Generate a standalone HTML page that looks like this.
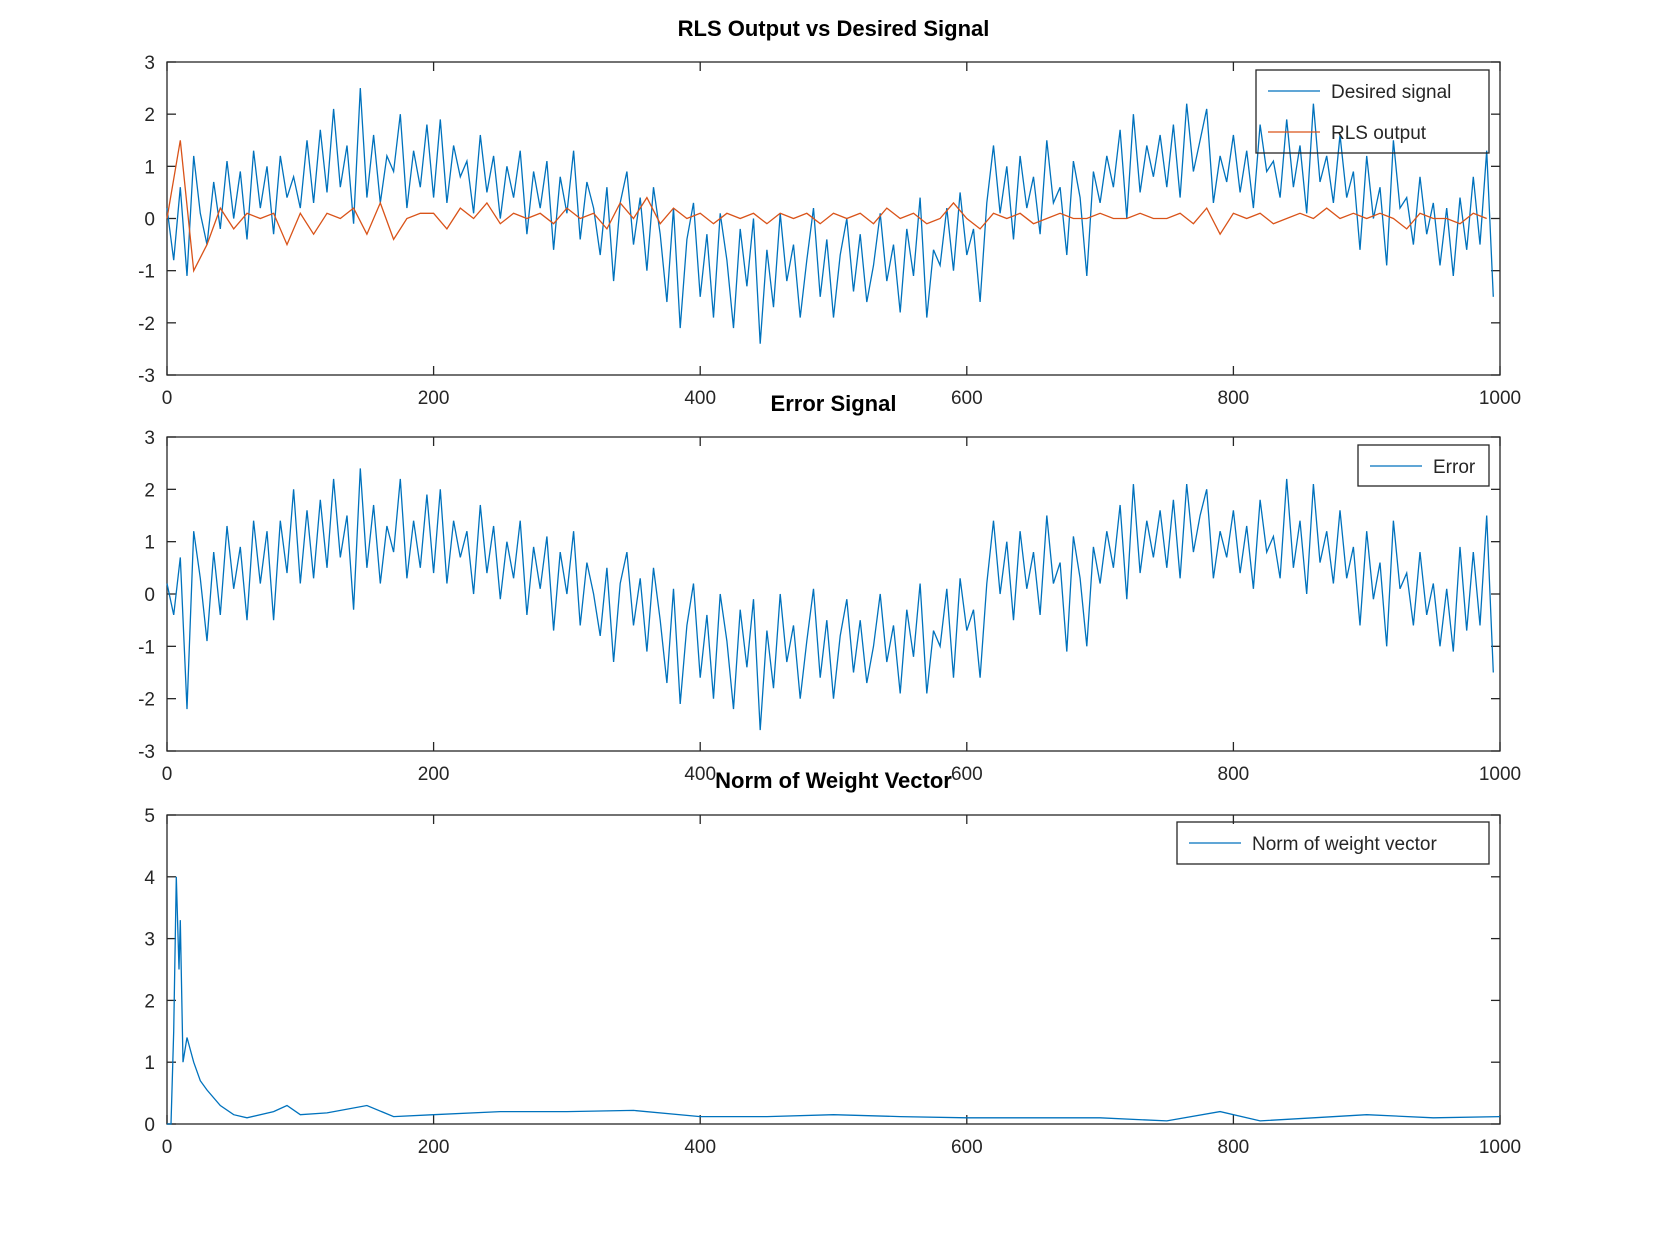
<!DOCTYPE html>
<html><head><meta charset="utf-8"><style>
html,body{margin:0;padding:0;background:#fff;}
svg{display:block;font-family:"Liberation Sans",sans-serif;}
</style></head><body>
<svg id="fig" width="1667" height="1250" viewBox="0 0 1667 1250" xmlns="http://www.w3.org/2000/svg"></svg>
<script>
const xTicks=[0,200,400,600,800,1000];
const desired=[0.2,-0.8,0.6,-1.1,1.2,0.1,-0.5,0.7,-0.2,1.1,0.0,0.9,-0.4,1.3,0.2,1.0,-0.3,1.2,0.4,0.8,
0.2,1.5,0.3,1.7,0.5,2.1,0.6,1.4,-0.1,2.5,0.4,1.6,0.3,1.2,0.9,2.0,0.2,1.3,0.6,1.8,
0.4,1.9,0.3,1.4,0.8,1.1,0.1,1.6,0.5,1.2,0.0,1.0,0.4,1.3,-0.3,0.9,0.2,1.1,-0.6,0.8,
0.1,1.3,-0.4,0.7,0.2,-0.7,0.6,-1.2,0.3,0.9,-0.5,0.4,-1.0,0.6,-0.3,-1.6,0.2,-2.1,-0.4,0.3,
-1.5,-0.3,-1.9,0.1,-0.8,-2.1,-0.2,-1.3,0.0,-2.4,-0.6,-1.7,0.1,-1.2,-0.5,-1.9,-0.8,0.2,-1.5,-0.4,
-1.9,-0.7,0.0,-1.4,-0.3,-1.6,-0.9,0.1,-1.2,-0.5,-1.8,-0.2,-1.1,0.4,-1.9,-0.6,-0.9,0.2,-1.0,0.5,
-0.7,-0.2,-1.6,0.3,1.4,0.1,1.0,-0.4,1.2,0.2,0.8,-0.3,1.5,0.3,0.6,-0.7,1.1,0.4,-1.1,0.9,
0.3,1.2,0.6,1.7,0.0,2.0,0.5,1.4,0.8,1.6,0.6,1.8,0.4,2.2,0.9,1.5,2.1,0.3,1.2,0.7,
1.6,0.5,1.3,0.2,1.8,0.9,1.1,0.4,1.9,0.6,1.4,0.1,2.2,0.7,1.2,0.3,1.6,0.4,0.9,-0.6,
1.2,0.0,0.6,-0.9,1.5,0.2,0.4,-0.5,0.8,-0.3,0.3,-0.9,0.2,-1.1,0.4,-0.6,0.8,-0.5,1.3,-1.5];
const rlsOutput=[0.0,1.5,-1.0,-0.5,0.2,-0.2,0.1,0.0,0.1,-0.5,
0.1,-0.3,0.1,0.0,0.2,-0.3,0.3,-0.4,0.0,0.1,
0.1,-0.2,0.2,0.0,0.3,-0.1,0.1,0.0,0.1,-0.1,
0.2,0.0,0.1,-0.2,0.3,0.0,0.4,-0.1,0.2,0.0,
0.1,-0.1,0.1,0.0,0.1,-0.1,0.1,0.0,0.1,-0.1,
0.1,0.0,0.1,-0.1,0.2,0.0,0.1,-0.1,0.0,0.3,
0.0,-0.2,0.1,0.0,0.1,-0.1,0.0,0.1,0.0,0.0,
0.1,0.0,0.0,0.1,0.0,0.0,0.1,-0.1,0.2,-0.3,
0.1,0.0,0.1,-0.1,0.0,0.1,0.0,0.2,0.0,0.1,
0.0,0.1,0.0,-0.2,0.1,0.0,0.0,-0.1,0.1,0.0];
const errorSig=[0.2,-0.4,0.7,-2.2,1.2,0.3,-0.9,0.8,-0.4,1.3,0.1,0.9,-0.5,1.4,0.2,1.2,-0.5,1.4,0.4,2.0,
0.2,1.6,0.3,1.8,0.5,2.2,0.7,1.5,-0.3,2.4,0.5,1.7,0.2,1.3,0.8,2.2,0.3,1.4,0.5,1.9,
0.4,2.0,0.2,1.4,0.7,1.2,0.0,1.7,0.4,1.3,-0.1,1.0,0.3,1.4,-0.4,0.9,0.1,1.1,-0.7,0.8,
0.0,1.2,-0.6,0.6,0.0,-0.8,0.5,-1.3,0.2,0.8,-0.6,0.3,-1.1,0.5,-0.5,-1.7,0.1,-2.1,-0.6,0.2,
-1.6,-0.4,-2.0,0.0,-0.9,-2.2,-0.3,-1.4,-0.1,-2.6,-0.7,-1.8,0.0,-1.3,-0.6,-2.0,-0.9,0.1,-1.6,-0.5,
-2.0,-0.8,-0.1,-1.5,-0.5,-1.7,-1.0,0.0,-1.3,-0.6,-1.9,-0.3,-1.2,0.2,-1.9,-0.7,-1.0,0.1,-1.6,0.3,
-0.7,-0.3,-1.6,0.2,1.4,0.0,1.0,-0.5,1.2,0.1,0.8,-0.4,1.5,0.2,0.6,-1.1,1.1,0.3,-1.0,0.9,
0.2,1.2,0.5,1.7,-0.1,2.1,0.4,1.4,0.7,1.6,0.5,1.8,0.3,2.1,0.8,1.5,2.0,0.3,1.2,0.7,
1.6,0.4,1.3,0.1,1.8,0.8,1.1,0.3,2.2,0.5,1.4,0.0,2.1,0.6,1.2,0.2,1.6,0.3,0.9,-0.6,
1.2,-0.1,0.6,-1.0,1.4,0.1,0.4,-0.6,0.8,-0.4,0.2,-1.0,0.1,-1.1,0.9,-0.7,0.8,-0.6,1.5,-1.5];
const normX=[0,3,5,7,9,10,12,15,20,25,30,40,50,60,80,90,100,120,150,170,200,250,300,350,400,450,500,550,600,700,750,790,820,860,900,950,1000];
const normVals=[0,0,1.5,4.0,2.5,3.3,1.0,1.4,1.0,0.7,0.55,0.3,0.15,0.1,0.2,0.3,0.15,0.18,0.3,0.12,0.15,0.2,0.2,0.22,0.12,0.12,0.15,0.12,0.1,0.1,0.05,0.2,0.05,0.1,0.15,0.1,0.12];

const NS="http://www.w3.org/2000/svg";
const svg=document.getElementById('fig');
const X0=167,X1=1500;
function mk(tag,attrs,parent){const e=document.createElementNS(NS,tag);for(const k in attrs)e.setAttribute(k,attrs[k]);(parent||svg).appendChild(e);return e;}
function makeX(){return v=>X0+(v-0)/1000*(X1-X0);}
function makeY(top,bot,lo,hi){return v=>bot-(v-lo)/(hi-lo)*(bot-top);}

function axes(top,bot,lo,hi,title,titleY,name){
  const g=mk('g',{});
  
  
  const sx=makeX(),sy=makeY(top,bot,lo,hi);
  const frame=mk('rect',{x:X0,y:top,width:X1-X0,height:bot-top,fill:'none',stroke:'#262626','stroke-width':1.3},g);
  
  
  xTicks.forEach(t=>{const x=sx(t);
    mk('line',{x1:x,y1:bot,x2:x,y2:bot-9,stroke:'#262626','stroke-width':1.3},g);
    mk('line',{x1:x,y1:top,x2:x,y2:top+9,stroke:'#262626','stroke-width':1.3},g);
    const tx=mk('text',{x:x,y:bot+29,'text-anchor':'middle','font-size':19,fill:'#262626'},g);
    tx.textContent=t;
    
    
  });
  for(let t=lo;t<=hi;t++){const y=sy(t);
    mk('line',{x1:X0,y1:y,x2:X0+9,y2:y,stroke:'#262626','stroke-width':1.3},g);
    mk('line',{x1:X1,y1:y,x2:X1-9,y2:y,stroke:'#262626','stroke-width':1.3},g);
    const tx=mk('text',{x:X0-12,y:y+7,'text-anchor':'end','font-size':19,fill:'#262626'},g);
    tx.textContent=t;
    
    
  }
  const tt=mk('text',{x:(X0+X1)/2,y:titleY,'text-anchor':'middle','font-size':22,'font-weight':'bold',fill:'#000'});
  tt.textContent=title;
  
  
  return {sx,sy};
}
function series(xs,ys,sx,sy,color,name){
  let d='';ys.forEach((v,i)=>{d+=(i?'L':'M')+sx(xs[i]).toFixed(1)+' '+sy(v).toFixed(1);});
  const p=mk('path',{d:d,fill:'none',stroke:color,'stroke-width':1.3});
  
  
}
function legend(x0,y0,w,h,entries,name){
  const r=mk('rect',{x:x0,y:y0,width:w,height:h,fill:'none',stroke:'#262626','stroke-width':1.3});
  
  
  entries.forEach((e,i)=>{const yy=y0+21+i*41;
    mk('line',{x1:x0+12,y1:yy,x2:x0+64,y2:yy,stroke:e[1],'stroke-width':1.2});
    const t=mk('text',{x:x0+75,y:yy+7,'font-size':19,fill:'#262626'});
    t.textContent=e[0];
    
    
  });
}
const BLUE='#0072bd',RED='#d95319';
// plot 1
let a=axes(62,375,-3,3,'RLS Output vs Desired Signal',36,'output-plot');
series(desired.map((_,i)=>i*5),desired,a.sx,a.sy,BLUE,'desired-signal-line');
series(rlsOutput.map((_,i)=>i*10),rlsOutput,a.sx,a.sy,RED,'rls-output-line');
legend(1256,70,233,83,[['Desired signal',BLUE],['RLS output',RED]],'output-legend');
// plot 2
a=axes(437,751,-3,3,'Error Signal',411,'error-plot');
series(errorSig.map((_,i)=>i*5),errorSig,a.sx,a.sy,BLUE,'error-line');
legend(1358,445,131,41,[['Error',BLUE]],'error-legend');
// plot 3
a=axes(815,1124,0,5,'Norm of Weight Vector',788,'norm-plot');
series(normX,normVals,a.sx,a.sy,BLUE,'norm-line');
legend(1177,822,312,42,[['Norm of weight vector',BLUE]],'norm-legend');
</script>
</body></html>
